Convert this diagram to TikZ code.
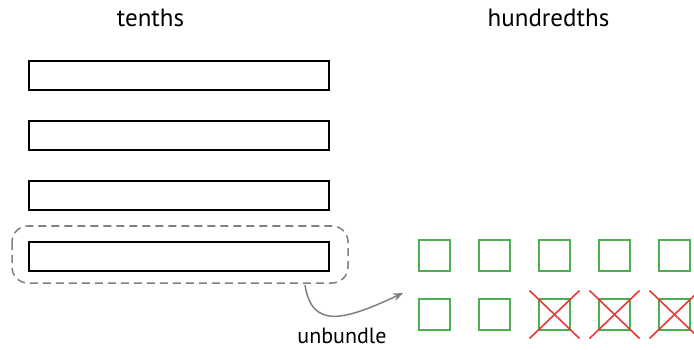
\documentclass[tikz,border=0pt]{standalone}
\usepackage{fontspec}
\setmainfont{PT Sans}
\usetikzlibrary{arrows.meta,calc}
\definecolor{sqgreen}{RGB}{76,175,80}
\definecolor{xred}{RGB}{229,57,53}
\definecolor{bgray}{RGB}{128,128,128}
\begin{document}
\begin{tikzpicture}[x=1pt,y=-1pt,
  bar/.style={draw=black,line width=1.6pt,minimum width=300pt,minimum height=29pt,inner sep=0pt,anchor=north west},
  sq/.style={draw=sqgreen,line width=2pt,minimum size=31pt,inner sep=0pt,anchor=north west},
  cross/.style={draw=xred,line width=1.6pt},
  lbl/.style={font=\fontsize{25}{28}\selectfont,inner sep=0pt,anchor=base},
  slbl/.style={font=\fontsize{22}{26}\selectfont,inner sep=0pt,anchor=base}]
\useasboundingbox (0,0) rectangle (694,350);
\node[lbl] (t1) at (150.5,27) {tenths};
\node[lbl] (t2) at (548.5,27) {hundredths};
\node[bar] (b1) at (28,60) {};
\node[bar] (b2) at (28,120) {};
\node[bar] (b3) at (28,180) {};
\node[bar] (b4) at (28,241) {};
\draw[bgray,line width=1.5pt,dash pattern=on 8pt off 5pt,rounded corners=16pt] (12,226) rectangle (348,283);
\foreach \i in {0,...,4}{
  \node[sq] (a\i) at (418+60*\i,239) {};
  \node[sq] (c\i) at (418+60*\i,298) {};
}
\foreach \i in {2,3,4}{
  \draw[cross] ($(c\i.center)+(-25,-24)$) -- ($(c\i.center)+(25,24)$);
  \draw[cross] ($(c\i.center)+(-25,24)$) -- ($(c\i.center)+(25,-24)$);
}
\coordinate (s) at (305,285);
\coordinate (e) at (403,293);
\draw[bgray,line width=1.5pt,-{Stealth[length=10pt,width=8pt]}] (s) .. controls (312,330) and (345,320) .. (e);
\node[slbl] (u) at (342,343) {unbundle};
\end{tikzpicture}
\end{document}
